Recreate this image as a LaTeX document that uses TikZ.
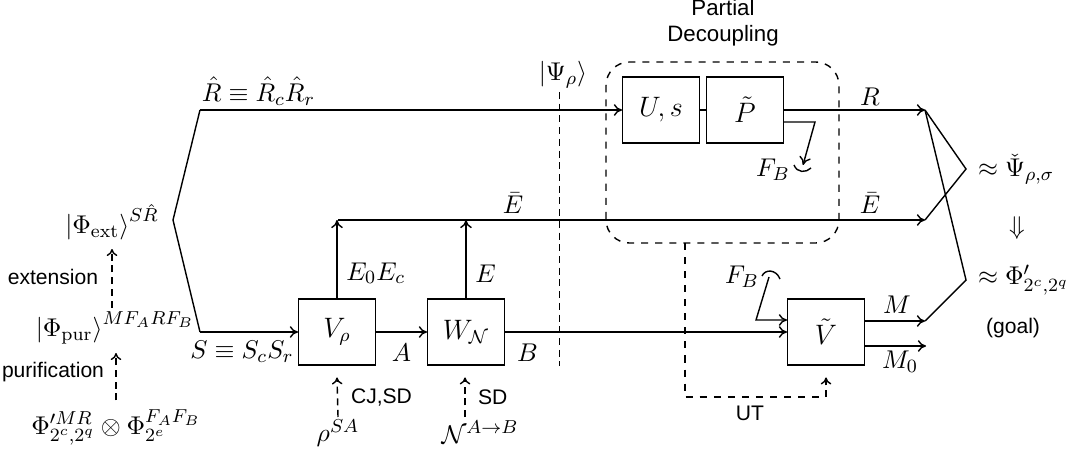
\documentclass[tikz,border=0pt,11pt]{standalone}
\usepackage{amsmath}
\usepackage{amssymb}
\usepackage{fontspec}
\setsansfont{Liberation Sans}
\usetikzlibrary{arrows.meta}

\tikzset{
  chan/.style={draw,semithick,minimum width=1.15cm,minimum height=0.99cm,font=\large,inner sep=0pt},
  wire/.style={semithick},
  flow/.style={semithick,-{To[length=3.5pt,width=5pt]}},
  prep/.style={semithick,densely dashed,-{To[length=3pt,width=4.5pt]}},
  tag/.style={font=\sffamily\footnotesize}
}

\begin{document}
\begin{tikzpicture}[x=0.015cm,y=-0.015cm]
    \useasboundingbox (0,0) rectangle (1084,460);
    % Boxes
    \node[chan] (Vrho) at (337,332) {$V_\rho$};
    \node[chan] (WN) at (466,332) {$W_{\mathcal N}$};
    \node[chan] (Us) at (661,110) {$U,s$};
    \node[chan] (Pt) at (745,110) {$\tilde P$};
    \node[chan] (Vt) at (826,332) {$\tilde V$};
    % Left column of states
    \node (ext) at (112,222) {$\left|\Phi_{\mathrm{ext}}\right\rangle^{S\hat R}$};
    \node (pur) at (115,328) {$\left|\Phi_{\mathrm{pur}}\right\rangle^{MF_ARF_B}$};
    \node (ini) at (116,427) {$\Phi'^{MR}_{2^c,2^q}\otimes\Phi^{F_AF_B}_{2^e}$};
    \draw[prep] (ini.north) -- (pur.south -| ini.north);
    \draw[prep] ([yshift=-2pt]pur.north -| ext.south) -- (ext.south);
    \node[tag] (lext) at (53,277) {extension};
    \node[tag] (lpur) at (53,372) {purification};
    % Splitting into S and R-hat
    \coordinate (apex) at (173,220);
    \coordinate (Rin) at (200,110);
    \coordinate (Sin) at (200,332);
    \draw[wire] (Rin) -- (apex) -- (Sin);
    \draw[flow] (Rin) -- (Us.west);
    \draw[flow] (Sin) -- (Vrho.west);
    \node[anchor=south west,inner sep=1pt] (lR) at (199,108) {$\hat R\equiv\hat R_c\hat R_r$};
    \node (lS) at (242,352) {$S\equiv S_cS_r$};
    % Channels
    \draw[flow] (Vrho.east) -- node[below=1pt] (lA) {$A$} (WN.west);
    \draw[flow] (WN.east) -- node[pos=0.08,below=1pt] (lB) {$B$} (Vt.west);
    \coordinate (Ebl) at (338,220);
    \coordinate (Ebr) at (925,220);
    \draw[flow] (Vrho.north) -- node[right,pos=0.32] (lE0) {$E_0E_c$} (Vrho.north |- Ebl);
    \draw[flow] (WN.north) -- node[right,pos=0.32] (lE) {$E$} (WN.north |- Ebl);
    \draw[flow] (Ebl) -- (Ebr);
    \node (lEb1) at (513,203) {$\bar E$};
    \node (lEb2) at (870,203) {$\bar E$};
    % Inputs of the channels
    \node (rho) at (338,433) {$\rho^{SA}$};
    \node (chn) at (480,432) {$\mathcal N^{A\to B}$};
    \draw[prep] (338,417) -- ([yshift=-5pt]Vrho.south);
    \draw[prep] (465,417) -- ([yshift=-5pt]WN.south -| 465,0);
    \node[tag,anchor=west] (lcj) at (342,397) {CJ,SD};
    \node[tag,anchor=west] (lsd) at (469,397) {SD};
    % State cut
    \node (psi) at (563,75) {$\left|\Psi_\rho\right\rangle$};
    \draw[densely dashed,thin] (559,92) -- (559,366);
    % Partial decoupling
    \draw[semithick,dashed,rounded corners=0.35cm] (606,62) rectangle (839,243);
    \node[align=center,inner sep=0pt,font=\sffamily\fontsize{9.5}{11}\selectfont] (lpd) at (723,23) {Partial\\Decoupling};
    \draw[wire] (Us.east) -- (Pt.west);
    \coordinate (Rout) at (925,110);
    \draw[flow] (Pt.east) -- (Rout);
    \node (lRo) at (870,97) {$R$};
    \coordinate (tr1) at (815,122);
    \coordinate (tr2) at (803,165);
    \draw[flow] (Pt.east |- tr1) -- (tr1) -- (tr2);
    \draw[semithick] (794,165) .. controls (797,173) and (806,173) .. (811,168);
    \node (lFB1) at (773,170) {$F_B$};
    % Decoder
    \coordinate (fb1) at (769,277);
    \coordinate (fb2) at (756,320);
    \draw[flow] (fb1) -- (fb2) -- (Vt.west |- fb2);
    \draw[semithick] (762,276) .. controls (765,269) and (776,269) .. (780,279);
    \node (lFB2) at (742,277) {$F_B$};
    \coordinate (Mout) at (925,321);
    \coordinate (M0out) at (926,346);
    \draw[flow] (Vt.east |- Mout) -- (Mout);
    \draw[flow] (Vt.east |- M0out) -- (M0out);
    \node (lM) at (897,305) {$M$};
    \node (lM0) at (900,362) {$M_0$};
    \draw[semithick,dashed] (685,243) -- (685,397) -- (826,397);
    \draw[prep] (826,397) -- ([yshift=-5pt]Vt.south);
    \node[tag] (lut) at (750,413) {UT};
    % Result
    \coordinate (j1) at (966,169);
    \coordinate (j2) at (966,280);
    \draw[wire] (Rout) -- (j1) -- (Ebr);
    \draw[wire] (Rout) -- (j2) -- (Mout);
    \node[anchor=west] (res1) at (969,169) {$\approx\check\Psi_{\rho,\sigma}$};
    \node (impl) at (1017,228) {$\Downarrow$};
    \node[anchor=west] (res2) at (969,280) {$\approx\Phi'_{2^c,2^q}$};
    \node[tag] (lgoal) at (1013,328) {(goal)};
\end{tikzpicture}
\end{document}
